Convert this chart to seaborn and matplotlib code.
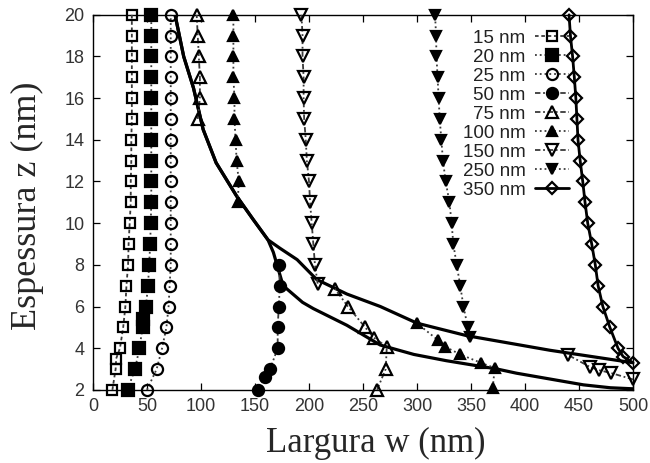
import matplotlib
matplotlib.use("Agg")
import matplotlib.pyplot as plt
from matplotlib.lines import Line2D
import seaborn as sns
import pandas as pd

# Width profiles w(z) for each nominal width, split into separate segments
labels = ["15 nm", "20 nm", "25 nm", "50 nm", "75 nm", "100 nm", "150 nm", "250 nm", "350 nm"]

w15_z = [2, 3, 3.5, 4, 5, 6, 7, 8, 9, 10, 11, 12, 13, 14, 15, 16, 17, 18, 19, 20]
w15_x = [18, 21, 21.5, 25, 28, 30, 31, 32.5, 33, 34, 35, 35, 35.5, 35.5, 36, 36, 36, 36, 36, 36]

w20_z = [2, 3, 4, 5, 5.4, 6, 7, 8, 9, 10, 11, 12, 13, 14, 15, 16, 17, 18, 19, 20]
w20_x = [32, 39, 43, 46, 46, 49, 51, 52, 53, 53.5, 54, 54, 54, 54, 54, 54, 54, 54, 54, 54]

w25_z = [2, 3, 4, 5, 6, 7, 8, 9, 10, 11, 12, 13, 14, 15, 16, 17, 18, 19, 20]
w25_x = [50, 59, 64, 68, 70, 71, 72, 72, 72, 72, 72, 72, 72, 72, 72, 72, 72, 72, 72]

w50_z = [2, 2.6, 3, 4, 5, 6, 7, 8]
w50_x = [153, 159, 164, 171, 171, 172, 173, 172]

w75_top_z = [15, 16, 17, 18, 19, 20]
w75_top_x = [97, 99, 99, 98, 97, 96]
w75_low_z = [2, 3, 4.07, 4.5, 5, 6, 6.85]
w75_low_x = [263, 271, 272, 260, 252, 236, 224]

w100_top_z = [11, 12, 13, 14, 15, 16, 17, 18, 19, 20]
w100_top_x = [134, 135, 133, 132, 131, 131, 130, 130, 130, 130]
w100_low_z = [2.1, 3.05, 3.3, 3.7, 4.07, 4.4, 5.2]
w100_low_x = [370, 372, 359, 340, 326, 319, 300]

w150_top_z = [7.1, 8, 9, 10, 11, 12, 13, 14, 15, 16, 17, 18, 19, 20]
w150_top_x = [208, 205.5, 204, 202.5, 201, 200, 198, 197, 195.5, 195, 195, 194, 194, 193]
w150_low_z = [2.5, 2.8, 2.95, 3.1, 3.67]
w150_low_x = [500, 480, 468, 460, 440]

w250_z = [4.55, 5, 6, 7, 8, 9, 10, 11, 12, 13, 14, 15, 16, 17, 18, 19, 20]
w250_x = [349, 347, 343, 340, 336.7, 333.6, 332, 330, 326.5, 324, 322.5, 321, 320, 319, 318, 317.6, 316.7]

w350_z = [3.3, 3.6, 4, 5, 6, 7, 8, 9, 10, 11, 12, 13, 14, 15, 16, 17, 18, 19, 20]
w350_x = [500, 490.7, 486, 478.5, 472, 467.6, 465, 461.7, 458, 455.5, 453.4, 451, 449, 448, 447, 445.6, 444, 442, 440.7]

# Two boundary curves (no markers)
upper_x = [76, 84, 93, 102, 114, 133, 148, 162, 173, 189, 207, 235, 266, 300, 346, 423, 500]
upper_z = [20, 18, 16.5, 14.5, 12.9, 11.3, 10.2, 9.2, 8.8, 8.25, 7.3, 6.6, 6.0, 5.2, 4.6, 3.9, 3.3]
lower_x = [76, 84, 93, 102, 114, 133, 148, 162, 167, 176, 194, 204, 235, 266, 297, 327, 374, 392, 454, 479, 500]
lower_z = [20, 18, 16.5, 14.5, 12.9, 11.3, 10.2, 9.2, 8.6, 7.0, 6.2, 5.9, 5.1, 4.15, 3.7, 3.4, 3.0, 2.8, 2.24, 2.1, 2.05]

# Marker styles: (marker, filled, linestyle, size)
dashdot = (0, (3, 1.5, 1, 1.5))
styles = {
    "15 nm": ("s", False, (0, (2, 1.5)), 7.5),
    "20 nm": ("s", True, ":", 8),
    "25 nm": ("o", False, ":", 8),
    "50 nm": ("o", True, dashdot, 8),
    "75 nm": ("^", False, dashdot, 8.5),
    "100 nm": ("^", True, ":", 7.5),
    "150 nm": ("v", False, dashdot, 8.5),
    "250 nm": ("v", True, ":", 7.5),
    "350 nm": ("D", False, "-", 6),
}

segments = [
    ("15 nm", w15_x, w15_z), ("20 nm", w20_x, w20_z), ("25 nm", w25_x, w25_z),
    ("50 nm", w50_x, w50_z),
    ("75 nm", w75_top_x, w75_top_z), ("75 nm", w75_low_x, w75_low_z),
    ("100 nm", w100_top_x, w100_top_z), ("100 nm", w100_low_x, w100_low_z),
    ("150 nm", w150_top_x, w150_top_z), ("150 nm", w150_low_x, w150_low_z),
    ("250 nm", w250_x, w250_z), ("350 nm", w350_x, w350_z),
]

sns.set_theme(style="ticks")
plt.rcParams["font.family"] = ["Liberation Sans", "DejaVu Sans"]

fig = plt.figure(figsize=(6.5, 4.63), dpi=100)
ax = fig.add_axes([0.143, 0.158, 0.831, 0.810])

def style_kws(label):
    m, filled, ls, ms = styles[label]
    lw = 2.0 if label == "350 nm" else 1.3
    lc = "black" if label == "350 nm" else "#3a3a3a"
    return dict(marker=m, markersize=ms, markeredgewidth=1.6,
                markeredgecolor="black",
                markerfacecolor="black" if filled else "none",
                linestyle=ls, linewidth=lw, color=lc)

for label, xs, zs in segments:
    df = pd.DataFrame({"w": xs, "z": zs})
    sns.lineplot(data=df, x="w", y="z", sort=False, estimator=None, ax=ax,
                 clip_on=False, zorder=3, **style_kws(label))

for xs, zs in [(upper_x, upper_z), (lower_x, lower_z)]:
    df = pd.DataFrame({"w": xs, "z": zs})
    sns.lineplot(data=df, x="w", y="z", sort=False, estimator=None, ax=ax,
                 color="black", linewidth=2.3, zorder=2)

ax.set_xlim(0, 500)
ax.set_ylim(2, 20)
ax.set_xticks(range(0, 501, 50))
ax.set_yticks(range(2, 21, 2))
ax.tick_params(direction="in", top=True, right=True, length=5, width=0.9,
               labelsize=13, colors="black", labelcolor="#333333", pad=6)
for sp in ax.spines.values():
    sp.set_linewidth(1.0)
    sp.set_color("black")

serif = ["Liberation Serif", "DejaVu Serif"]
ax.set_xlabel("Largura w (nm)", fontsize=25, family=serif)
ax.set_ylabel("Espessura z (nm)", fontsize=26, family=serif)
ax.xaxis.set_label_coords(0.524, -0.165)
ax.xaxis.label.set_verticalalignment("baseline")
ax.yaxis.set_label_coords(-0.106, 0.49)
ax.yaxis.label.set_verticalalignment("baseline")

handles = [Line2D([], [], **style_kws(l)) for l in labels]
ax.legend(handles, labels, loc="upper right", bbox_to_anchor=(0.905, 0.995),
          frameon=False, markerfirst=False, handlelength=1.8, handletextpad=0.5,
          labelspacing=0.1, fontsize=13.5, borderpad=0.2, labelcolor="#222222")

fig.savefig("out.png", dpi=100)
